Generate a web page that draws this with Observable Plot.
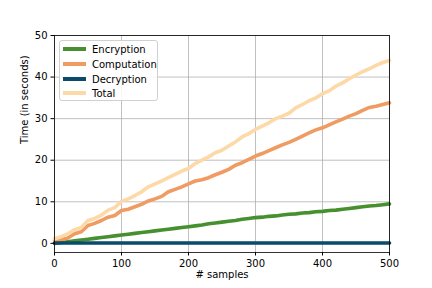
<!DOCTYPE html>
<html>
<head>
<meta charset="utf-8">
<script src="https://cdn.jsdelivr.net/npm/d3@7"></script>
<script src="https://cdn.jsdelivr.net/npm/@observablehq/plot@0.6"></script>
<style>
  html, body { margin: 0; padding: 0; background: #fff; }
  #wrap { position: relative; width: 432px; height: 288px; font-family: "DejaVu Sans", sans-serif; }
  #legend { position: absolute; left: 59px; top: 40px; width: 99px; height: 61px;
    border: 1px solid #d0d0d0; border-radius: 3px; background: rgba(255,255,255,0.85); box-sizing: border-box; }
  .row { position: absolute; left: 0; height: 14px; display: flex; align-items: center; font-size: 10px; color: #000; }
  .sw { position: absolute; left: 3px; width: 23px; height: 3px; }
  .lb { position: absolute; left: 32px; white-space: nowrap; }
</style>
</head>
<body>
<div id="wrap"></div>
<script>
const samples = [0,10,20,30,40,50,60,70,80,90,100,110,120,130,140,150,160,170,180,190,200,210,220,230,240,250,260,270,280,290,300,310,320,330,340,350,360,370,380,390,400,410,420,430,440,450,460,470,480,490,500];
const encryption = [0.0,0.2,0.4,0.6,0.8,1.0,1.2,1.4,1.6,1.8,2.0,2.2,2.4,2.6,2.8,3.0,3.2,3.4,3.6,3.8,4.0,4.2,4.4,4.7,4.9,5.1,5.3,5.5,5.8,6.0,6.2,6.3,6.5,6.6,6.8,7.0,7.1,7.3,7.4,7.6,7.7,7.9,8.0,8.2,8.4,8.6,8.8,9.0,9.1,9.3,9.5];
const computation = [0.7,0.9,1.3,2.3,2.8,4.3,4.8,5.5,6.3,6.7,7.9,8.2,8.8,9.4,10.2,10.7,11.3,12.4,13.0,13.6,14.3,15.0,15.3,15.8,16.5,17.1,17.8,18.8,19.4,20.2,21.0,21.6,22.3,23.0,23.7,24.3,25.0,25.8,26.6,27.3,27.8,28.5,29.2,29.9,30.6,31.2,32.0,32.7,33.0,33.4,33.8];
const decryption = [0.1,0.1,0.1,0.1,0.1,0.1,0.1,0.1,0.1,0.1,0.1,0.1,0.1,0.1,0.1,0.1,0.1,0.1,0.1,0.1,0.1,0.1,0.1,0.1,0.1,0.1,0.1,0.1,0.1,0.1,0.1,0.1,0.1,0.1,0.1,0.1,0.1,0.1,0.1,0.1,0.1,0.1,0.1,0.1,0.1,0.1,0.1,0.1,0.1,0.1,0.1];
const total = [1.1,1.6,2.3,3.3,3.8,5.5,6.0,6.8,8.0,8.6,10.1,10.7,11.5,12.4,13.6,14.3,15.0,15.8,16.6,17.4,18.0,19.2,20.0,20.8,21.8,22.4,23.4,24.4,25.6,26.4,27.4,28.2,29.0,30.0,30.6,31.3,32.6,33.4,34.3,35.0,36.0,36.7,37.8,38.6,39.6,40.5,41.3,42.0,42.8,43.5,44.0];
const seriesNames = ["Encryption","Computation","Decryption","Total"];
const seriesColors = ["#46902f","#ef9b62","#0a4a6b","#fdd9a8"];
const xTicks = [0,100,200,300,400,500];
const yTicks = [0,10,20,30,40,50];
const xLabel = "# samples";
const yLabel = "Time (in seconds)";

const seriesValues = [encryption, computation, decryption, total];
const rows = [];
seriesNames.forEach((name, i) => {
  samples.forEach((s, j) => rows.push({series: name, x: s, y: seriesValues[i][j]}));
});

const lineMarks = seriesNames.map((name, i) =>
  Plot.line(rows.filter(d => d.series === name), {
    x: "x", y: "y", stroke: seriesColors[i], strokeWidth: 3.6, strokeLinejoin: "round"
  })
);

const chart = Plot.plot({
  width: 432, height: 288,
  marginLeft: 54, marginRight: 43, marginTop: 35, marginBottom: 36,
  style: { fontFamily: "DejaVu Sans", fontSize: "10px", color: "#000", background: "#fff" },
  x: { domain: [0, 500] },
  y: { domain: [-2.2, 50] },
  marks: [
    Plot.gridX(xTicks, { stroke: "#b0b0b0", strokeOpacity: 1, strokeWidth: 0.8 }),
    Plot.gridY(yTicks, { stroke: "#b0b0b0", strokeOpacity: 1, strokeWidth: 0.8 }),
    ...lineMarks,
    Plot.frame({ stroke: "#000", strokeWidth: 0.8 }),
    Plot.axisX(xTicks, { tickSize: 3.5, tickPadding: 3.5, label: null, fontSize: 10, tickFormat: d => String(d) }),
    Plot.axisY(yTicks, { tickSize: 3.5, tickPadding: 3.5, label: null, fontSize: 10, tickFormat: d => String(d) }),
    Plot.text([xLabel], { frameAnchor: "bottom", dy: 25, text: d => d, fontSize: 10 }),
    Plot.text([yLabel], { frameAnchor: "left", dx: -30, rotate: -90, text: d => d, fontSize: 10 })
  ]
});

const wrap = document.getElementById("wrap");
wrap.appendChild(chart);

const legend = document.createElement("div");
legend.id = "legend";
const rowTops = [1, 16, 31, 45];
seriesNames.forEach((name, i) => {
  const row = document.createElement("div");
  row.className = "row";
  row.style.top = rowTops[i] + "px";
  row.style.width = "97px";
  const sw = document.createElement("div");
  sw.className = "sw";
  sw.style.background = seriesColors[i];
  sw.style.height = "4px";
  sw.style.top = "5px";
  const lb = document.createElement("div");
  lb.className = "lb";
  lb.textContent = name;
  row.appendChild(sw);
  row.appendChild(lb);
  legend.appendChild(row);
});
wrap.appendChild(legend);
</script>
</body>
</html>
